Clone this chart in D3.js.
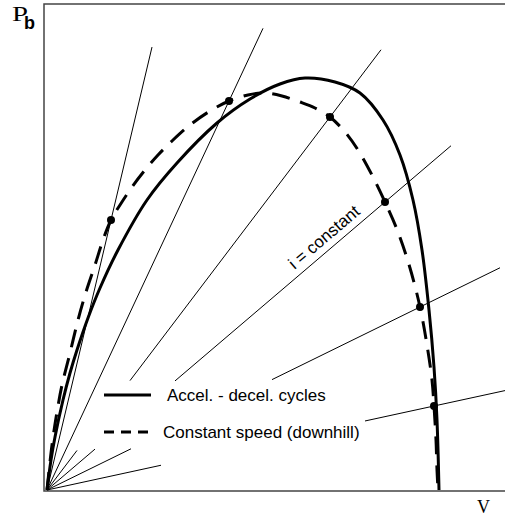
<!DOCTYPE html>
<html>
<head>
  <script src="https://d3js.org/d3.v7.min.js"></script>
  <style>
    body { margin: 0; background: #fff; }
    text { font-family: "Liberation Sans", Arial, sans-serif; fill: #000; }
  </style>
</head>
<body>
  <script>
    // speed V and braking power Pb, arbitrary units
    const accelV = [0, 1, 2, 4, 5.75, 7.5, 10.25, 13.25, 17.75, 25, 32.5, 42.5, 50.75, 58.25, 64.5, 72, 78.25, 84, 88.25, 91.5, 93.75, 95.5, 96.75, 97.5, 98];
    const accelP = [0, 7.5, 13.25, 22.5, 29.25, 35, 43, 50.5, 60, 72.5, 81.75, 91.75, 97.75, 101.5, 103, 102, 99.25, 92.5, 83.75, 72.5, 60, 45, 30.75, 17.5, 0];

    const downhillV = [0, 1.25, 2.5, 3.75, 5.75, 7.75, 9.75, 12, 14, 16, 18.25, 21.25, 24.5, 27.75, 31.25, 35.75, 40.75, 45.5, 50.25, 54.5, 58.75, 63.25, 67, 70.75, 74.5, 77.75, 81.25, 84.5, 87.75, 90.75, 93.25, 95, 96.25, 96.75, 97.25, 97.5, 97.75];
    const downhillP = [0, 11.25, 19.5, 26.25, 34.25, 42.5, 49.5, 56.25, 62.5, 67.5, 71.25, 75.75, 80, 83.75, 87.25, 91.25, 94.75, 97.25, 98.75, 99.25, 98.5, 97, 95.5, 93.25, 89.5, 85, 78.75, 72, 64.5, 55.5, 45.75, 36.25, 27.5, 21, 12.5, 5, 0];

    // where the i = constant lines cut the constant-speed curve
    const markV = [16, 45.5, 70.75, 84.5, 93.25, 96.75];
    const markP = [67.5, 97.25, 93.25, 72, 45.75, 21];
    // how far each line runs, and the stretch left out behind the legend
    const rayEndV = [26.25, 54, 83.5, 101, 113.25, 114.5];
    const rayGapV = [null, null, [7.5, 20.75], [12, 32], [21, 56.25], [28.5, 79.5]];

    const legendLabels = ["Accel. - decel. cycles", "Constant speed (downhill)"];
    const rayLabel = "i = constant";

    const w = 505;
    const h = 517;

    const x = d3.scaleLinear().domain([0, 100]).range([47, 447]);
    const y = d3.scaleLinear().domain([0, 100]).range([490, 90]);

    const vLim = [-0.75, 114.5];
    const pLim = [-0.25, 121.5];

    const svg = d3.select("body")
      .append("svg")
      .attr("width", w)
      .attr("height", h);

    svg.append("rect")
      .attr("width", w)
      .attr("height", h)
      .attr("fill", "#fff");

    // open frame: left, top and bottom
    svg.append("path")
      .attr("d", "M" + x(vLim[1]) + "," + y(pLim[1]) +
        "H" + x(vLim[0]) + "V" + y(pLim[0]) + "H" + x(vLim[1]))
      .attr("fill", "none")
      .attr("stroke", "#444")
      .attr("stroke-width", 1.5);

    // i = constant rays through the origin
    const segs = [];
    markV.forEach((v, i) => {
      const k = markP[i] / v;
      const gap = rayGapV[i];
      const parts = gap ? [[0, gap[0]], [gap[1], rayEndV[i]]] : [[0, rayEndV[i]]];
      parts.forEach(p => segs.push({ v0: p[0], v1: p[1], k: k }));
    });

    svg.selectAll(".ray")
      .data(segs)
      .enter()
      .append("line")
      .attr("class", "ray")
      .attr("x1", d => x(d.v0))
      .attr("y1", d => y(d.k * d.v0))
      .attr("x2", d => x(d.v1))
      .attr("y2", d => y(d.k * d.v1))
      .attr("stroke", "#000")
      .attr("stroke-width", 1);

    const line = d3.line()
      .x(d => x(d[0]))
      .y(d => y(d[1]))
      .curve(d3.curveCatmullRom.alpha(0.5));

    svg.append("path")
      .datum(accelV.map((v, i) => [v, accelP[i]]))
      .attr("d", line)
      .attr("fill", "none")
      .attr("stroke", "#000")
      .attr("stroke-width", 3);

    svg.append("path")
      .datum(downhillV.map((v, i) => [v, downhillP[i]]))
      .attr("d", line)
      .attr("fill", "none")
      .attr("stroke", "#000")
      .attr("stroke-width", 3)
      .attr("stroke-dasharray", "18,11");

    svg.selectAll(".mark")
      .data(markV)
      .enter()
      .append("circle")
      .attr("class", "mark")
      .attr("cx", d => x(d))
      .attr("cy", (d, i) => y(markP[i]))
      .attr("r", 4)
      .attr("fill", "#000");

    // label along the fourth ray
    const a = Math.atan2(y(markP[3]) - y(0), x(markV[3]) - x(0)) * 180 / Math.PI;
    const lv = 63;
    svg.append("text")
      .attr("transform", "translate(" + x(lv) + "," + y(lv * markP[3] / markV[3]) + ") rotate(" + a + ")")
      .attr("dy", -7)
      .attr("font-size", 17)
      .text(rayLabel);

    // legend
    const legend = svg.append("g");
    const dashes = [null, "10,7"];
    const legY = [23.75, 14.5];
    const legTextX = [30, 29];
    legendLabels.forEach((t, i) => {
      legend.append("line")
        .attr("x1", x(14.25))
        .attr("x2", x(26))
        .attr("y1", y(legY[i]))
        .attr("y2", y(legY[i]))
        .attr("stroke", "#000")
        .attr("stroke-width", 3)
        .attr("stroke-dasharray", dashes[i]);
      legend.append("text")
        .attr("x", x(legTextX[i]))
        .attr("y", y(legY[i]) + 6)
        .attr("font-size", 17)
        .text(t);
    });

    // axis names
    svg.append("text")
      .attr("x", 12)
      .attr("y", 21)
      .attr("font-size", 21)
      .style("font-family", "'Liberation Serif', 'Times New Roman', serif")
      .attr("textLength", 16)
      .attr("lengthAdjust", "spacingAndGlyphs")
      .text("P");
    svg.append("text")
      .attr("x", 24)
      .attr("y", 29)
      .attr("font-size", 18)
      .attr("font-weight", "bold")
      .text("b");
    svg.append("text")
      .attr("x", 477)
      .attr("y", 513)
      .attr("font-size", 18)
      .style("font-family", "'Liberation Serif', 'Times New Roman', serif")
      .text("V");
  </script>
</body>
</html>
